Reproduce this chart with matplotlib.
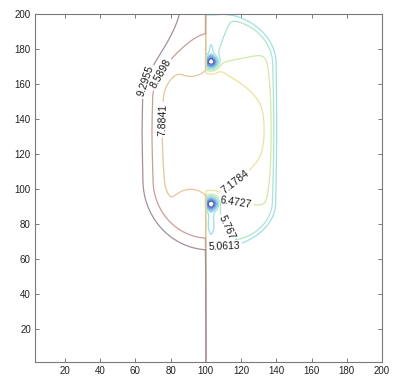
import numpy as np
import matplotlib
matplotlib.use("Agg")
import matplotlib.pyplot as plt

plt.rcParams["font.family"] = ["Liberation Sans", "DejaVu Sans"]

# Contour levels and their line colours
levels = [1.5328, 2.2385, 2.9442, 3.6499, 4.3556, 5.0613, 5.767,
          6.4727, 7.1784, 7.8841, 8.5898, 9.2955]
level_colors = ["#4a58b0", "#5a74c6", "#6a94d8", "#7cb2e2", "#8ccce6",
                "#9edfe4", "#ace6cc", "#d2e8a8", "#ece2a0", "#e5c59c",
                "#cc9c9c", "#a3909f"]

# Levels that carry an inline label, and where each label sits
label_levels = [9.2955, 8.5898, 7.8841, 7.1784, 6.4727, 5.767, 5.0613]
label_spots = [(66.0, 161.5), (75.5, 165.0), (75.5, 139.5), (111.5, 111.0),
               (117.0, 91.5), (110.5, 77.0), (110.5, 64.5)]

x_ticks = [20, 40, 60, 80, 100, 120, 140, 160, 180, 200]
y_ticks = [20, 40, 60, 80, 100, 120, 140, 160, 180, 200]

# Geometry of the model: two electrode tips and a material interface
electrode_x = 103.0
electrode_y = [92.0, 172.0]
interface_x = 100.0

# plateau profile of the right medium against the gap angle
gap_angle = [0.0, 0.03, 0.12, 0.45, 0.57, 0.60, 0.74, 0.80, 1.0]
gap_value = [5.45, 5.50, 6.10, 6.95, 7.38, 7.45, 7.75, 7.80, 7.85]


def softplus(t):
    return np.logaddexp(0.0, t)


def sigmoid(t):
    return 0.5 * (1.0 + np.tanh(0.5 * t))


gx = np.arange(3.25, 200.0, 0.5)
gy = np.arange(1.0, 200.01, 0.5)
X, Y = np.meshgrid(gx, gy)

y_lo, y_hi = electrode_y
# angle subtended by the electrode gap (harmonic-measure like term)
ax1, ay1 = electrode_x - X, y_lo - Y
ax2, ay2 = electrode_x - X, y_hi - Y
phi = np.abs(np.arctan2(ax1 * ay2 - ay1 * ax2, ax1 * ax2 + ay1 * ay2))
u = phi / np.pi

dx = np.abs(X - electrode_x)
r1 = np.hypot(X - electrode_x, Y - y_lo)
r2 = np.hypot(X - electrode_x, Y - y_hi)
r_tip = np.minimum(r1, r2)

# left medium: rises away from the gap
dy_left = 0.95 * np.clip(104.0 - Y, 0.0, None) \
    + 36.0 * np.tanh(np.clip(Y - 152.0, 0.0, None) / 30.0)
d_left = np.hypot(dx, dy_left)
tip_weight = 0.32 + 0.8 * np.exp(-r_tip / 20.0)
z_left = 7.45 + tip_weight * np.sqrt(1.0 - u) + 0.125 * softplus(d_left - 26.5)

# right medium: plateau bounded by a steep wall, sinks at the tips
below = np.clip(y_lo - Y, 0.0, None)
above = np.clip(Y - y_hi, 0.0, None)
plateau = np.interp(u, gap_angle, gap_value)
d_right = np.hypot(dx, 1.36 * below + 1.24 * above)
z_right = 4.7 + (plateau - 4.7) * (1.0 - sigmoid((d_right - 35.5) / 1.3))
z_right -= 6.0 * (np.exp(-(r1 / 3.4) ** 2) + np.exp(-(r2 / 3.4) ** 2))
z_right -= 0.7 * np.exp(-r1 / 30.0) + 0.55 * np.exp(-r2 / 25.0)

Z = np.where(X < interface_x, z_left, z_right)

fig = plt.figure(figsize=(3.94, 3.78), dpi=100)
ax = fig.add_axes([0.0888, 0.0431, 0.8807, 0.9198])

spots = dict(zip(label_levels, label_spots))
for lev, col in zip(levels, level_colors):
    cs = ax.contour(X, Y, Z, levels=[lev], colors=[col], linewidths=0.9)
    if lev in spots:
        ax.clabel(cs, manual=[spots[lev]], inline=True, inline_spacing=2,
                  fmt=lambda v: f"{v:g}", fontsize=7.5, colors="#1a1a1a")

ax.set_xlim(3, 200)
ax.set_ylim(1, 200)
ax.set_xticks(x_ticks)
ax.set_yticks(y_ticks)
ax.tick_params(direction="in", length=3, width=0.6, colors="#666666",
               labelcolor="#222222", labelsize=7, top=True, right=True, pad=3)
for s in ax.spines.values():
    s.set_color("#7a7a7a")
    s.set_linewidth(0.8)

fig.savefig("out.png", dpi=100)
